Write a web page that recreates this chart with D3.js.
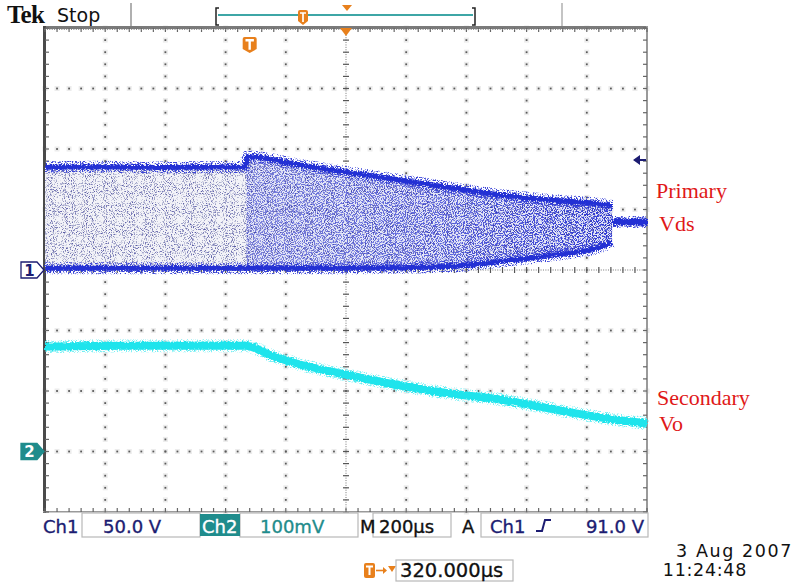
<!DOCTYPE html>
<html>
<head>
<meta charset="utf-8">
<script src="https://cdn.jsdelivr.net/npm/d3@7/dist/d3.min.js"></script>
<style>
  html, body { margin: 0; padding: 0; background: #ffffff; }
  svg { display: block; font-family: "DejaVu Sans", sans-serif; }
  .serif { font-family: "Liberation Serif", "Times New Roman", serif; }
</style>
</head>
<body>
<svg id="scope" width="794" height="584"></svg>
<script>
// ---- acquisition settings ----
const timePerDiv = 200;          // µs per division
const ch1VoltsPerDiv = 50;       // V per division
const ch2MilliVoltsPerDiv = 100; // mV per division
const triggerDelay = 320;        // µs from trigger point to expansion point
const triggerLevel = 91.0;       // V, Ch1 rising edge
const ch2GroundDiv = -3;         // Ch2 ground, divisions from centre

// ---- Ch1: primary Vds switching envelope (µs from trigger, V) ----
const vdsTime = [-680, -500, -300, -100, -14, -8, 167, 317, 499, 665, 832, 998, 1164, 1204];
const vdsHigh = [85, 85.4, 84.8, 85.2, 85, 93.8, 86.8, 81, 74.4, 68.2, 62, 57.9, 54.5, 52.9];
const vdsLow  = [1.5, 1.5, 1.5, 1.5, 1.5, 1.5, 1.5, 1.5, 1.8, 2.8, 7, 12, 19, 23];
// after switching stops
const vdsTailTime = [1204, 1320];
const vdsTail = [39.7, 39.7];

// ---- Ch2: secondary Vo (µs from trigger, mV) ----
const voTime = [-680, -400, -200, -16, 80, 167, 317, 499, 665, 832, 998, 1164, 1320];
const vo = [173.6, 175, 175, 175, 157, 143.8, 127.3, 109.1, 95.9, 85.9, 71.1, 56.2, 46.3];

// ---- screen text ----
const traceNames = ["Primary", "Vds", "Secondary", "Vo"];
const dateText = ["3 Aug 2007", "11:24:48"];
const brandText = ["Tek", "Stop"];

const W = 794, H = 584;
const frame = { left: 45, right: 647, top: 28, bottom: 512 };
const svg = d3.select('#scope');
const defs = svg.append('defs');

const x = d3.scaleLinear()
  .domain([triggerDelay - 5 * timePerDiv, triggerDelay + 5 * timePerDiv])
  .range([frame.left, frame.right]);
const y1 = d3.scaleLinear()
  .domain([-4 * ch1VoltsPerDiv, 4 * ch1VoltsPerDiv])
  .range([frame.bottom, frame.top]);
const y2 = d3.scaleLinear()
  .domain([(-4 - ch2GroundDiv) * ch2MilliVoltsPerDiv, (4 - ch2GroundDiv) * ch2MilliVoltsPerDiv])
  .range([frame.bottom, frame.top]);

// ---------- filters ----------
function speckle(id, seed, freq, slope, cut) {
  const f = defs.append('filter').attr('id', id)
    .attr('filterUnits', 'userSpaceOnUse')
    .attr('x', 0).attr('y', 0).attr('width', W).attr('height', H)
    .attr('color-interpolation-filters', 'sRGB');
  f.append('feTurbulence').attr('type', 'fractalNoise')
    .attr('baseFrequency', freq).attr('numOctaves', 1).attr('seed', seed).attr('result', 'n');
  f.append('feColorMatrix').attr('in', 'n').attr('type', 'matrix')
    .attr('values', `0 0 0 0 0  0 0 0 0 0  0 0 0 0 0  ${slope} 0 0 0 ${-slope * cut}`)
    .attr('result', 'm');
  f.append('feComposite').attr('in', 'SourceGraphic').attr('in2', 'm').attr('operator', 'in');
}
function rough(id, seed, freq, scale) {
  const f = defs.append('filter').attr('id', id)
    .attr('filterUnits', 'userSpaceOnUse')
    .attr('x', 0).attr('y', 0).attr('width', W).attr('height', H)
    .attr('color-interpolation-filters', 'sRGB');
  f.append('feTurbulence').attr('type', 'fractalNoise')
    .attr('baseFrequency', freq).attr('numOctaves', 2).attr('seed', seed).attr('result', 't');
  f.append('feDisplacementMap').attr('in', 'SourceGraphic').attr('in2', 't')
    .attr('scale', scale).attr('xChannelSelector', 'R').attr('yChannelSelector', 'G');
}
speckle('speckPre', 4, 0.9, 10, 0.55);
speckle('speckPost', 9, 0.9, 10, 0.47);
speckle('speckDark', 13, 0.95, 12, 0.6);
speckle('speckEdge', 21, 0.8, 8, 0.5);
rough('roughBlue', 5, '0.6 0.9', 6);
rough('roughCyan', 8, '0.5 0.9', 4);

// ---------- graticule ----------
const grid = svg.append('g');
const t0 = x.domain()[0];
const v0 = y1.domain()[0];
const tMajor = d3.range(1, 10).map(i => t0 + i * timePerDiv);
const vMajor = d3.range(1, 8).map(j => v0 + j * ch1VoltsPerDiv);
const tMinor = d3.range(0, 51).map(i => t0 + i * timePerDiv / 5);
const vMinor = d3.range(0, 41).map(j => v0 + j * ch1VoltsPerDiv / 5);
const tFine = d3.range(0, 251).map(i => t0 + i * timePerDiv / 25);
const vFine = d3.range(0, 201).map(j => v0 + j * ch1VoltsPerDiv / 25);
const tCentre = t0 + 5 * timePerDiv;
const vCentre = 0;

const dots = [];
tMajor.filter(t => t !== tCentre).forEach(t => vMinor.forEach(v => dots.push([x(t), y1(v)])));
vMajor.filter(v => v !== vCentre).forEach(v => tMinor.forEach(t => dots.push([x(t), y1(v)])));
grid.selectAll('rect.halo').data(dots).join('rect').attr('class', 'halo')
  .attr('x', d => d[0] - 2.5).attr('y', d => d[1] - 2.5)
  .attr('width', 5).attr('height', 5).attr('fill', '#ececec');
grid.selectAll('rect.dot').data(dots).join('rect').attr('class', 'dot')
  .attr('x', d => d[0] - 0.9).attr('y', d => d[1] - 0.9)
  .attr('width', 1.8).attr('height', 1.8).attr('fill', '#5a5a5a');

// centre cross: fine dots plus minor ticks
grid.selectAll('rect.cfx').data(tFine).join('rect').attr('class', 'cfx')
  .attr('x', t => x(t) - 0.5).attr('y', y1(vCentre) - 0.5).attr('width', 1).attr('height', 1).attr('fill', '#777');
grid.selectAll('rect.cfy').data(vFine).join('rect').attr('class', 'cfy')
  .attr('x', x(tCentre) - 0.5).attr('y', v => y1(v) - 0.5).attr('width', 1).attr('height', 1).attr('fill', '#777');
grid.selectAll('line.ctx').data(tMinor).join('line').attr('class', 'ctx')
  .attr('x1', t => x(t)).attr('x2', t => x(t))
  .attr('y1', y1(vCentre) - 3).attr('y2', y1(vCentre) + 3)
  .attr('stroke', '#555').attr('stroke-width', 1.2);
grid.selectAll('line.cty').data(vMinor).join('line').attr('class', 'cty')
  .attr('y1', v => y1(v)).attr('y2', v => y1(v))
  .attr('x1', x(tCentre) - 3).attr('x2', x(tCentre) + 3)
  .attr('stroke', '#555').attr('stroke-width', 1.2);

// frame with inner ticks
grid.append('rect').attr('x', frame.left - 2).attr('y', frame.top - 2)
  .attr('width', frame.right - frame.left + 3).attr('height', 3).attr('fill', '#7a7a7a');
grid.append('rect').attr('x', frame.left - 2).attr('y', frame.top - 2)
  .attr('width', 3).attr('height', frame.bottom - frame.top + 3).attr('fill', '#4a4a4a');
grid.append('rect').attr('x', frame.right - 1).attr('y', frame.top - 2)
  .attr('width', 2).attr('height', frame.bottom - frame.top + 3).attr('fill', '#9a9a9a');
grid.append('rect').attr('x', frame.left - 2).attr('y', frame.bottom - 1)
  .attr('width', frame.right - frame.left + 3).attr('height', 1.5).attr('fill', '#9a9a9a');
grid.selectAll('line.ftt').data(tMinor).join('line').attr('class', 'ftt')
  .attr('x1', t => x(t)).attr('x2', t => x(t)).attr('y1', frame.top).attr('y2', frame.top + 4)
  .attr('stroke', '#666').attr('stroke-width', 1.2);
grid.selectAll('line.ftb').data(tMinor).join('line').attr('class', 'ftb')
  .attr('x1', t => x(t)).attr('x2', t => x(t)).attr('y1', frame.bottom - 4).attr('y2', frame.bottom)
  .attr('stroke', '#666').attr('stroke-width', 1.2);
grid.selectAll('line.fvl').data(vMinor).join('line').attr('class', 'fvl')
  .attr('y1', v => y1(v)).attr('y2', v => y1(v)).attr('x1', frame.left).attr('x2', frame.left + 4)
  .attr('stroke', '#666').attr('stroke-width', 1.2);
grid.selectAll('line.fvr').data(vMinor).join('line').attr('class', 'fvr')
  .attr('y1', v => y1(v)).attr('y2', v => y1(v)).attr('x1', frame.right - 4).attr('x2', frame.right)
  .attr('stroke', '#666').attr('stroke-width', 1.2);
grid.selectAll('rect.fft').data(tFine).join('rect').attr('class', 'fft')
  .attr('x', t => x(t) - 0.5).attr('y', frame.top + 1).attr('width', 1).attr('height', 1).attr('fill', '#888');

// ---------- Ch1 envelope ----------
const vdsData = vdsTime.map((t, i) => ({ t, hi: vdsHigh[i], lo: vdsLow[i] }));
const tSplit = -11;
const envArea = d3.area().x(d => x(d.t)).y0(d => y1(d.lo)).y1(d => y1(d.hi)).curve(d3.curveMonotoneX);
const hiLine = d3.line().x(d => x(d.t)).y(d => y1(d.hi)).curve(d3.curveMonotoneX);
const loLine = d3.line().x(d => x(d.t)).y(d => y1(d.lo)).curve(d3.curveMonotoneX);

defs.append('clipPath').attr('id', 'clipPre').append('rect')
  .attr('x', frame.left).attr('y', frame.top).attr('width', x(tSplit) - frame.left).attr('height', frame.bottom - frame.top);
defs.append('clipPath').attr('id', 'clipPost').append('rect')
  .attr('x', x(tSplit)).attr('y', frame.top).attr('width', frame.right - x(tSplit)).attr('height', frame.bottom - frame.top);

const grad = defs.append('linearGradient').attr('id', 'postFill')
  .attr('gradientUnits', 'userSpaceOnUse')
  .attr('x1', x(tSplit)).attr('x2', x(vdsTime[vdsTime.length - 1])).attr('y1', 0).attr('y2', 0);
grad.append('stop').attr('offset', 0).attr('stop-color', '#7a80dc');
grad.append('stop').attr('offset', 0.55).attr('stop-color', '#5a62dc');
grad.append('stop').attr('offset', 1).attr('stop-color', '#2c36d4');

const ch1 = svg.append('g');
ch1.append('path').datum(vdsData).attr('d', envArea)
  .attr('clip-path', 'url(#clipPre)').attr('fill', '#f3f3f8');
ch1.append('path').datum(vdsData).attr('d', envArea)
  .attr('clip-path', 'url(#clipPost)').attr('fill', '#e4e6f6');
ch1.append('g').attr('clip-path', 'url(#clipPre)').append('path').datum(vdsData).attr('d', envArea)
  .attr('fill', '#a2a6c8').attr('filter', 'url(#speckPre)');
ch1.append('g').attr('clip-path', 'url(#clipPost)').append('path').datum(vdsData).attr('d', envArea)
  .attr('fill', 'url(#postFill)').attr('filter', 'url(#speckPost)');
ch1.append('path').datum(vdsData).attr('d', envArea)
  .attr('fill', '#2a2c8e').attr('fill-opacity', 0.6).attr('filter', 'url(#speckDark)');

// edges of the envelope
[hiLine, loLine].forEach(gen => {
  ch1.append('path').datum(vdsData).attr('d', gen)
    .attr('fill', 'none').attr('stroke', '#3a44d8').attr('stroke-width', 12)
    .attr('filter', 'url(#speckEdge)');
  ch1.append('path').datum(vdsData).attr('d', gen)
    .attr('fill', 'none').attr('stroke', '#2330d4').attr('stroke-width', 5)
    .attr('filter', 'url(#roughBlue)');
});
const tailData = vdsTailTime.map((t, i) => ({ t, v: vdsTail[i] }));
const tailLine = d3.line().x(d => x(d.t)).y(d => y1(d.v));
ch1.append('path').datum(tailData).attr('d', tailLine)
  .attr('fill', 'none').attr('stroke', '#3a44d8').attr('stroke-width', 12).attr('filter', 'url(#speckEdge)');
ch1.append('path').datum(tailData).attr('d', tailLine)
  .attr('fill', 'none').attr('stroke', '#2330d4').attr('stroke-width', 7).attr('filter', 'url(#roughBlue)');

// ---------- Ch2 ----------
const voData = voTime.map((t, i) => ({ t, v: vo[i] }));
const voLine = d3.line().x(d => x(d.t)).y(d => y2(d.v)).curve(d3.curveMonotoneX);
svg.append('path').datum(voData).attr('d', voLine)
  .attr('fill', 'none').attr('stroke', '#7cf0f4').attr('stroke-width', 13).attr('filter', 'url(#speckEdge)');
svg.append('path').datum(voData).attr('d', voLine)
  .attr('fill', 'none').attr('stroke', '#1ee4ec').attr('stroke-width', 8).attr('filter', 'url(#roughCyan)');

// ---------- markers ----------
const navy = '#1c1c72', teal = '#1f8c8c', orange = '#e8801c';
function chMarker(yc, fill, stroke, label, color) {
  const g = svg.append('g');
  g.append('path')
    .attr('d', `M21,${yc - 8} H37 L44,${yc} L37,${yc + 8} H21 Z`)
    .attr('fill', fill).attr('stroke', stroke).attr('stroke-width', 1.3);
  g.append('text').attr('x', 29.5).attr('y', yc + 5.5).attr('text-anchor', 'middle')
    .attr('font-size', 15).attr('font-weight', 'bold').attr('fill', color).text(label);
}
chMarker(y1(0), '#ffffff', navy, '1', navy);
chMarker(y2(0), teal, teal, '2', '#ffffff');

// trigger level arrow on the right edge
const yTrig = y1(triggerLevel);
svg.append('path')
  .attr('d', `M633,${yTrig} L640,${yTrig - 5} L640,${yTrig - 1} L646,${yTrig - 1} L646,${yTrig + 1} L640,${yTrig + 1} L640,${yTrig + 5} Z`)
  .attr('fill', navy);

// orange trigger marks
function tBadge(cx, top, w, h) {
  const g = svg.append('g');
  g.append('path')
    .attr('d', `M${cx - w / 2 + 2},${top} H${cx + w / 2 - 2} Q${cx + w / 2},${top} ${cx + w / 2},${top + 2}
      V${top + h - 4} L${cx},${top + h} L${cx - w / 2},${top + h - 4} V${top + 2} Q${cx - w / 2},${top} ${cx - w / 2 + 2},${top} Z`)
    .attr('fill', orange);
  g.append('path')
    .attr('d', `M${cx - w * 0.3},${top + h * 0.2} H${cx + w * 0.3} M${cx},${top + h * 0.2} V${top + h * 0.8}`)
    .attr('stroke', '#ffffff').attr('stroke-width', Math.max(1.6, w * 0.17)).attr('fill', 'none');
}
tBadge(x(0), 37, 14, 16);
const xc = x(triggerDelay);
svg.append('path').attr('d', `M${xc - 6},${frame.top} L${xc + 6},${frame.top} L${xc},${frame.top + 8} Z`).attr('fill', orange);

// ---------- header ----------
svg.append('text').attr('class', 'serif').attr('x', 7).attr('y', 23)
  .attr('font-weight', 'bold')
  .attr('font-size', 25).attr('letter-spacing', -0.8).attr('fill', '#111').text(brandText[0]);
svg.append('text').attr('x', 57).attr('y', 22)
  .attr('font-size', 19).attr('fill', '#111').text(brandText[1]);
svg.append('line').attr('x1', 131).attr('x2', 131).attr('y1', 3).attr('y2', 26).attr('stroke', '#b0b0b0').attr('stroke-width', 2);
svg.append('line').attr('x1', 562).attr('x2', 562).attr('y1', 3).attr('y2', 26).attr('stroke', '#c4c4c4').attr('stroke-width', 2);
// record view bar
svg.append('line').attr('x1', 218).attr('x2', 473).attr('y1', 15).attr('y2', 15).attr('stroke', '#3ea6a6').attr('stroke-width', 2);
svg.append('path').attr('d', 'M219,8 H216 V25 H219').attr('fill', 'none').attr('stroke', '#222').attr('stroke-width', 1.5);
svg.append('path').attr('d', 'M472,8 H475 V25 H472').attr('fill', 'none').attr('stroke', '#222').attr('stroke-width', 1.5);
tBadge(303, 10, 10, 15);
svg.append('path').attr('d', 'M342,5 L352,5 L347,11 Z').attr('fill', orange);

// ---------- status line ----------
const status = svg.append('g').attr('font-size', 18);
const boxY = 513, boxH = 24, baseY = 533;
function box(x0, x1) {
  status.append('rect').attr('x', x0).attr('y', boxY).attr('width', x1 - x0).attr('height', boxH)
    .attr('fill', '#fff').attr('stroke', '#b8b8b8').attr('stroke-width', 1.2);
}
function label(xp, txt, color, anchor) {
  status.append('text').attr('x', xp).attr('y', baseY).attr('fill', color)
    .attr('stroke', color).attr('stroke-width', 0.35)
    .attr('text-anchor', anchor || 'start').text(txt);
}
box(82, 200); box(240, 358); box(373, 451); box(481, 648);
label(43, 'Ch1', navy);
label(103, `${ch1VoltsPerDiv.toFixed(1)} V`, navy);
status.append('rect').attr('x', 200).attr('y', boxY + 1).attr('width', 40).attr('height', boxH - 2).attr('fill', teal);
label(202, 'Ch2', '#ffffff');
label(260, `${ch2MilliVoltsPerDiv}mV`, teal);
label(360, 'M', '#111');
label(379, `${timePerDiv}µs`, '#111');
label(462, 'A', '#111');
label(490, 'Ch1', navy);
status.append('path').attr('d', 'M536,531 H542 L545,520 H551').attr('fill', 'none')
  .attr('stroke', navy).attr('stroke-width', 2);
label(644, `${triggerLevel.toFixed(1)} V`, navy, 'end');

// delay readout
const delay = svg.append('g');
delay.append('rect').attr('x', 364).attr('y', 563).attr('width', 11).attr('height', 15).attr('rx', 2).attr('fill', orange);
delay.append('path').attr('d', 'M366,566.5 H373 M369.5,566.5 V575').attr('stroke', '#fff').attr('stroke-width', 2);
delay.append('path').attr('d', 'M376,570.5 H385').attr('stroke', orange).attr('stroke-width', 1.6);
delay.append('path').attr('d', 'M383,567 L387,570.5 L383,574 Z').attr('fill', orange);
delay.append('path').attr('d', 'M388,566 L396,566 L392,572 Z').attr('fill', orange);
delay.append('rect').attr('x', 396).attr('y', 560).attr('width', 117).attr('height', 21)
  .attr('fill', '#fff').attr('stroke', '#b8b8b8').attr('stroke-width', 1.2);
delay.append('text').attr('x', 400).attr('y', 577).attr('font-size', 19.5).attr('fill', '#111')
  .attr('stroke', '#111').attr('stroke-width', 0.3)
  .text(`${triggerDelay.toFixed(3)}µs`);

// date / time
svg.append('text').attr('x', 793).attr('y', 557).attr('text-anchor', 'end')
  .attr('font-size', 17.5).attr('letter-spacing', 1.6).attr('fill', '#111').text(dateText[0]);
svg.append('text').attr('x', 747).attr('y', 576).attr('text-anchor', 'end')
  .attr('font-size', 17.5).attr('letter-spacing', 0.7).attr('fill', '#111').text(dateText[1]);

// ---------- trace annotations ----------
const notes = svg.append('g').attr('class', 'serif')
  .attr('font-size', 22).attr('fill', '#e01818');
notes.append('text').attr('x', 656).attr('y', 198).text(traceNames[0]);
notes.append('text').attr('x', 659).attr('y', 231).text(traceNames[1]);
notes.append('text').attr('x', 657).attr('y', 405).text(traceNames[2]);
notes.append('text').attr('x', 659).attr('y', 431).text(traceNames[3]);
</script>
</body>
</html>
